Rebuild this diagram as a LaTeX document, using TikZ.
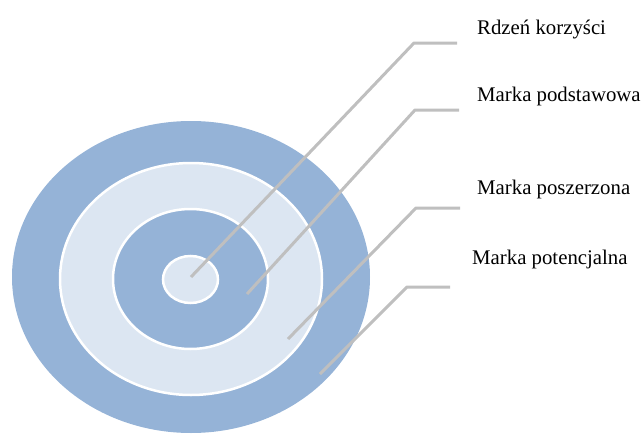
\documentclass[tikz,border=0pt]{standalone}
\usepackage{fontspec}
\setmainfont{Liberation Serif}
\usetikzlibrary{shapes.geometric}
\definecolor{ringdark}{HTML}{95B3D7}
\definecolor{ringlight}{HTML}{DCE6F2}
\definecolor{leader}{HTML}{BFBFBF}
\tikzset{
  ring/.style={ellipse, inner sep=0pt, outer sep=0pt},
  leaderline/.style={draw=leader, line width=3pt, line join=round},
  label/.style={anchor=base west, inner sep=0pt, font=\fontsize{20.8}{24}\selectfont, text=black}
}
\begin{document}
\begin{tikzpicture}[x=1pt,y=-1pt]
\useasboundingbox (0,0) rectangle (643,434);
% rings
\node[ring, fill=ringdark, minimum width=358pt, minimum height=312pt] (outer) at (191,277) {};
\node[ring, fill=ringlight, draw=white, line width=2.5pt, minimum width=262pt, minimum height=232pt] (ext) at (191,279) {};
\node[ring, fill=ringdark, draw=white, line width=2.5pt, minimum width=155pt, minimum height=140pt] (basic) at (190.5,279) {};
\node[ring, fill=ringlight, draw=white, line width=2.5pt, minimum width=55pt, minimum height=47pt] (core) at (190.5,279.5) {};
% labels
\node[label] (t1) at (477,34) {Rdzeń korzyści};
\node[label] (t2) at (477,101) {Marka podstawowa};
\node[label] (t3) at (477,194) {Marka poszerzona};
\node[label] (t4) at (472,264) {Marka potencjalna};
% leader coordinates
\coordinate (s1) at (191,277);
\coordinate (b1) at (414,43);
\coordinate (e1) at (457,43);
\coordinate (s2) at (247,294);
\coordinate (b2) at (415,110);
\coordinate (e2) at (459,110);
\coordinate (s3) at (288,339);
\coordinate (b3) at (416,208);
\coordinate (e3) at (460,208);
\coordinate (s4) at (320,374);
\coordinate (b4) at (407,287);
\coordinate (e4) at (450,287);
\draw[leaderline] (s1) -- (b1) -- (e1);
\draw[leaderline] (s2) -- (b2) -- (e2);
\draw[leaderline] (s3) -- (b3) -- (e3);
\draw[leaderline] (s4) -- (b4) -- (e4);
\end{tikzpicture}
\end{document}
